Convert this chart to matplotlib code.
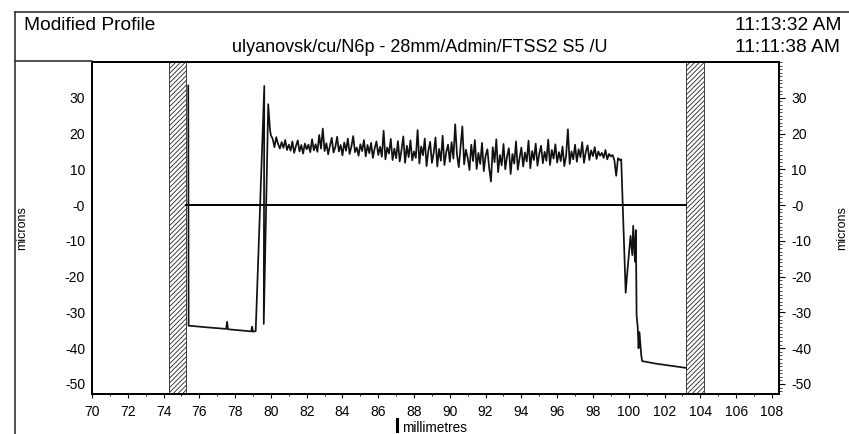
import matplotlib.pyplot as plt
import numpy as np
from matplotlib.lines import Line2D
from matplotlib.patches import Rectangle
from matplotlib.ticker import FixedLocator, MultipleLocator

plt.rcParams["font.family"] = ["Liberation Sans", "DejaVu Sans"]
plt.rcParams["hatch.linewidth"] = 0.6

# header texts
title_left = "Modified Profile"
title_mid = "ulyanovsk/cu/N6p - 28mm/Admin/FTSS2 S5 /U"
time_1 = "11:13:32 AM"
time_2 = "11:11:38 AM"

# axis ranges / ticks
x_ticks = [70, 72, 74, 76, 78, 80, 82, 84, 86, 88, 90, 92, 94, 96, 98, 100, 102, 104, 106, 108]
y_ticks = [30, 20, 10, 0, -10, -20, -30, -40, -50]
y_labels = ["30", "20", "10", "-0", "-10", "-20", "-30", "-40", "-50"]

# masked zones (hatched) and reference line
zone_left = (74.3, 75.25)
zone_right = (103.2, 104.2)
ref_line_x = [75.25, 103.2]
ref_line_y = [0.0, 0.0]

# trace before the step (mm, microns)
lead_x = [75.38, 75.40, 76.5, 77.5, 77.55, 77.6, 78.5, 78.9, 78.95, 79.0, 79.15,
          79.63, 79.60, 79.85, 79.95, 80.0]
lead_y = [33.4, -33.7, -34.2, -34.6, -32.6, -34.7, -35.1, -35.3, -34.0, -35.4, -35.2,
          33.3, -33.2, 28.2, 21.0, 19.5]

# noisy top of the step, sampled every 0.1 mm from 80.1 to 99.5
top_start, top_step = 80.1, 0.1
top_y = [
    18.5, 16.2, 19.0, 17.1, 15.8, 17.6, 16.0, 18.2, 15.4, 16.9,
    15.2, 17.8, 14.6, 16.5, 18.1, 15.0, 16.8, 14.4, 17.2, 15.6,
    16.9, 14.8, 18.4, 15.3, 17.0, 14.9, 19.6, 15.8, 21.4, 15.1,
    17.3, 14.2, 16.6, 18.8, 14.7, 16.2, 19.1, 15.0, 16.8, 13.9,
    17.5, 15.2, 18.6, 14.3, 16.4, 19.3, 14.8, 16.1, 13.8, 17.0,
    15.1, 18.2, 13.6, 16.8, 14.5, 17.4, 13.2, 15.9, 17.8, 14.0,
    16.3, 13.5, 20.8, 12.8, 16.1, 14.4, 18.5, 12.6, 15.8, 13.1,
    17.9, 12.2, 15.4, 19.2, 11.8, 16.6, 13.4, 18.1, 12.5, 15.0,
    13.2, 21.0, 11.6, 16.4, 13.9, 18.6, 10.9, 15.2, 17.7, 11.8,
    14.6, 18.9, 10.8, 15.7, 12.4, 19.4, 11.2, 14.8, 16.9, 12.1,
    17.6, 13.0, 22.6, 14.2, 10.6, 16.3, 22.0, 11.4, 15.5, 13.2,
    9.8, 16.9, 12.3, 18.2, 10.1, 14.6, 11.5, 17.4, 9.5, 13.8,
    15.6, 10.4, 6.6, 16.2, 12.0, 18.4, 9.2, 14.0, 11.1, 17.1,
    10.0, 13.6, 15.9, 8.7, 14.3, 11.6, 17.8, 9.9, 13.2, 16.1,
    10.8, 14.7, 12.2, 18.0, 10.3, 15.1, 12.6, 17.2, 11.0, 14.4,
    16.6, 11.7, 14.9, 12.4, 18.3, 11.2, 15.4, 13.0, 17.0, 11.9,
    14.8, 12.3, 16.4, 10.9, 13.8, 21.2, 11.5, 15.0, 12.8, 16.9,
    12.1, 15.6, 13.4, 17.6, 11.8, 14.9, 16.7, 12.6, 15.3, 13.7,
    16.2, 12.9, 15.0, 13.8, 14.6, 13.2, 15.4, 12.8, 14.3, 13.6,
    14.0, 12.5, 8.2, 13.1, 12.6,
]

# trace after the step
tail_x = [99.58, 99.7, 99.83, 99.9, 100.1, 100.2, 100.25, 100.35, 100.4, 100.44,
          100.5, 100.55, 100.6, 100.7, 100.75, 101.5, 102.5, 103.2]
tail_y = [12.8, -5.0, -24.5, -20.0, -8.6, -14.0, -5.8, -15.8, -7.0, -30.8,
          -34.0, -40.0, -35.5, -42.0, -43.6, -44.3, -45.0, -45.5]

top_x = top_start + top_step * np.arange(len(top_y))
prof_x = np.concatenate([lead_x, top_x, tail_x])
prof_y = np.concatenate([lead_y, top_y, tail_y])

W, H = 849, 434
fig = plt.figure(figsize=(W / 100, H / 100), dpi=100)
ax = fig.add_axes([92 / W, 1 - 394 / H, 687 / W, 332 / H])

ax.set_xlim(70, 108.4)
ax.set_ylim(-52.8, 40)

for lo, hi in (zone_left, zone_right):
    ax.add_patch(Rectangle((lo, -52.8), hi - lo, 92.8, facecolor="white",
                           edgecolor="#222222", hatch="///////", linewidth=0.6, zorder=1))

ax.plot(ref_line_x, ref_line_y, color="black", linewidth=1.4, zorder=2)
ax.plot(prof_x, prof_y, color="#111111", linewidth=1.25, zorder=3)

for s in ax.spines.values():
    s.set_linewidth(1.3)

ax.xaxis.set_major_locator(FixedLocator(x_ticks))
ax.xaxis.set_minor_locator(MultipleLocator(1))
ax.tick_params(axis="x", which="major", direction="out", length=3, width=0.8,
               labelsize=10, pad=5)
ax.tick_params(axis="x", which="minor", direction="out", length=1.5, width=0.6)

ax.set_yticks(y_ticks)
ax.set_yticklabels(y_labels)
ax.tick_params(axis="y", which="both", length=0, labelsize=10, pad=5)

ax2 = ax.twinx()
ax2.set_ylim(ax.get_ylim())
ax2.set_yticks(y_ticks)
ax2.set_yticklabels(y_labels)
ax2.yaxis.set_minor_locator(MultipleLocator(1))
ax2.tick_params(axis="y", which="major", direction="out", length=4, width=0.8,
                labelsize=10, pad=5)
ax2.tick_params(axis="y", which="minor", direction="out", length=2, width=0.5)
for s in ax2.spines.values():
    s.set_linewidth(1.3)

# header box and frame
fig.add_artist(Line2D([15 / W, 1.0], [1 - 12 / H, 1 - 12 / H], color="#333333", linewidth=1.2))
fig.add_artist(Line2D([15 / W, 92 / W], [1 - 61 / H, 1 - 61 / H], color="#333333", linewidth=1.2))
fig.add_artist(Line2D([15 / W, 15 / W], [1 - 12 / H, 0.0], color="#333333", linewidth=1.2))

fig.text(24 / W, 1 - 25 / H, title_left, fontsize=13.8, va="center", ha="left")
fig.text(420 / W, 1 - 47 / H, title_mid, fontsize=13, va="center", ha="center")
fig.text(735 / W, 1 - 25 / H, time_1, fontsize=13.8, va="center", ha="left")
fig.text(735 / W, 1 - 47 / H, time_2, fontsize=13.8, va="center", ha="left")

fig.text(22 / W, 1 - 228 / H, "microns", fontsize=9, rotation=90, va="center", ha="center")
fig.text(842 / W, 1 - 228 / H, "microns", fontsize=9, rotation=90, va="center", ha="center")

fig.add_artist(Line2D([397 / W, 397 / W], [1 - 419 / H, 1 - 431 / H], color="black", linewidth=2.2))
fig.text(402 / W, 1 - 428 / H, "millimetres", fontsize=9.8, va="center", ha="left")

fig.savefig("out.png", dpi=100)
